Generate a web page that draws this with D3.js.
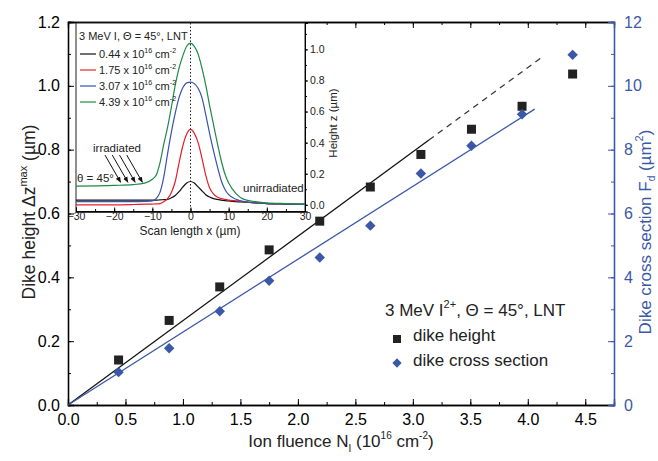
<!DOCTYPE html>
<html>
<head>
<meta charset="utf-8">
<script src="https://cdn.jsdelivr.net/npm/d3@7"></script>
<style>
  body { margin: 0; background: #fff; }
  svg { font-family: "Liberation Sans", Arial, sans-serif; }
</style>
</head>
<body>
<svg id="chart" width="658" height="461"></svg>
<script>
// main data: ion fluence (10^16 cm^-2)
var fluence = [0.44, 0.88, 1.32, 1.75, 2.19, 2.63, 3.07, 3.51, 3.95, 4.39];
var dikeHeight = [0.141, 0.265, 0.370, 0.486, 0.576, 0.683, 0.785, 0.864, 0.936, 1.037]; // um
var crossSection = [1.03, 1.78, 2.94, 3.89, 4.62, 5.62, 7.25, 8.12, 9.11, 10.97];      // um^2

// linear fits
var heightFitX = [0, 3.14];
var heightFitY = [0, 0.83];
var heightDashX = [3.14, 4.14];
var heightDashY = [0.83, 1.094];
var crossFitX = [0, 4.06];
var crossFitY = [0, 9.27];

// tick labels
var xTicks = [0, 0.5, 1, 1.5, 2, 2.5, 3, 3.5, 4, 4.5];
var yTicks = [0, 0.2, 0.4, 0.6, 0.8, 1.0, 1.2];
var y2Ticks = [0, 2, 4, 6, 8, 10, 12];

// inset: height profiles z(x)
var scanX = [-30, -20, -15, -12, -10, -9, -8, -7, -6, -5, -4, -3, -2, -1, 0, 1, 2, 3, 4, 5, 6, 7, 8, 9, 10, 12, 14, 17, 20, 25, 30];
var profile044 = [0.03, 0.03, 0.03, 0.03, 0.03, 0.03, 0.032, 0.033, 0.035, 0.045, 0.06, 0.085, 0.115, 0.14, 0.15, 0.14, 0.115, 0.09, 0.065, 0.05, 0.04, 0.035, 0.03, 0.027, 0.025, 0.02, 0.017, 0.012, 0.008, 0.005, 0.003];
var profile175 = [0, 0, 0.002, 0.004, 0.005, 0.006, 0.008, 0.02, 0.04, 0.08, 0.15, 0.27, 0.38, 0.455, 0.485, 0.46, 0.40, 0.30, 0.19, 0.11, 0.07, 0.05, 0.04, 0.035, 0.03, 0.025, 0.02, 0.012, 0.008, 0.005, 0.003];
var profile307 = [0.02, 0.02, 0.02, 0.022, 0.025, 0.04, 0.08, 0.18, 0.33, 0.47, 0.59, 0.69, 0.755, 0.785, 0.79, 0.78, 0.75, 0.69, 0.58, 0.46, 0.35, 0.25, 0.16, 0.10, 0.065, 0.035, 0.02, 0.012, 0.008, 0.005, 0.003];
var profile439 = [0.12, 0.125, 0.13, 0.14, 0.165, 0.19, 0.27, 0.39, 0.50, 0.63, 0.77, 0.88, 0.96, 1.02, 1.04, 1.02, 0.97, 0.88, 0.77, 0.64, 0.52, 0.40, 0.29, 0.20, 0.14, 0.07, 0.035, 0.02, 0.012, 0.008, 0.005];
var profileNames = ["0.44", "1.75", "3.07", "4.39"];
var insetXTicks = [-30, -20, -10, 0, 10, 20, 30];
var insetYTicks = [0, 0.2, 0.4, 0.6, 0.8, 1.0];

var blue = "#3b58a8";
var profileColors = ["#111111", "#e5202b", "#3553b0", "#1d8a48"];

var svg = d3.select("#chart");

// scales
var x = d3.scaleLinear().domain([0, 4.75]).range([68, 614]);
var y = d3.scaleLinear().domain([0, 1.2]).range([405, 22]);
var y2 = d3.scaleLinear().domain([0, 12]).range([405, 22]);

// axes - ticks inward
var minorX = d3.range(0, 4.76, 0.25);
var minorY = d3.range(0, 1.21, 0.1);
var minorY2 = d3.range(0, 12.1, 1);

svg.append("g").attr("transform", "translate(0,405)")
  .call(d3.axisBottom(x).tickValues(minorX).tickSize(-3).tickFormat(""));
svg.append("g").attr("transform", "translate(0,405)")
  .call(d3.axisBottom(x).tickValues(xTicks).tickSize(-6).tickPadding(9).tickFormat(d3.format(".1f")));
svg.append("g").attr("transform", "translate(0,22)")
  .call(d3.axisTop(x).tickValues(minorX).tickSize(-3).tickFormat(""));
svg.append("g").attr("transform", "translate(0,22)")
  .call(d3.axisTop(x).tickValues(xTicks).tickSize(-6).tickFormat(""));
svg.append("g").attr("transform", "translate(68,0)")
  .call(d3.axisLeft(y).tickValues(minorY).tickSize(-3).tickFormat(""));
svg.append("g").attr("transform", "translate(68,0)")
  .call(d3.axisLeft(y).tickValues(yTicks).tickSize(-6).tickPadding(8).tickFormat(d3.format(".1f")));

var rightMinor = svg.append("g").attr("transform", "translate(614,0)")
  .call(d3.axisRight(y2).tickValues(minorY2).tickSize(-3).tickFormat(""));
var rightAxis = svg.append("g").attr("transform", "translate(614,0)")
  .call(d3.axisRight(y2).tickValues(y2Ticks).tickSize(-6).tickPadding(10).tickFormat(d3.format("d")));
rightMinor.selectAll("line,path").attr("stroke", blue);
rightAxis.selectAll("line,path").attr("stroke", blue);
rightAxis.selectAll("text").attr("fill", blue);

svg.selectAll(".tick text").attr("font-size", 16).attr("font-family", "Liberation Sans, Arial, sans-serif");
svg.selectAll(".domain").attr("stroke-width", 1.3);

// fit lines
var lineMain = d3.line().x(d => x(d[0])).y(d => y(d[1]));
var lineRight = d3.line().x(d => x(d[0])).y(d => y2(d[1]));

svg.append("path").datum(d3.zip(heightFitX, heightFitY))
  .attr("d", lineMain).attr("fill", "none").attr("stroke", "#111").attr("stroke-width", 1.3);
svg.append("path").datum(d3.zip(heightDashX, heightDashY))
  .attr("d", lineMain).attr("fill", "none").attr("stroke", "#333").attr("stroke-width", 1.2)
  .attr("stroke-dasharray", "6,5");
svg.append("path").datum(d3.zip(crossFitX, crossFitY))
  .attr("d", lineRight).attr("fill", "none").attr("stroke", blue).attr("stroke-width", 1.3);

// markers
svg.append("g").selectAll("rect")
  .data(d3.zip(fluence, dikeHeight))
  .enter().append("rect")
  .attr("x", d => x(d[0]) - 4.5)
  .attr("y", d => y(d[1]) - 4.5)
  .attr("width", 9).attr("height", 9)
  .attr("fill", "#222");

var diamond = d3.symbol().type(d3.symbolDiamond2).size(70);
svg.append("g").selectAll("path")
  .data(d3.zip(fluence, crossSection))
  .enter().append("path")
  .attr("d", diamond)
  .attr("transform", d => "translate(" + x(d[0]) + "," + y2(d[1]) + ")")
  .attr("fill", blue);

// axis titles
var xt = svg.append("text").attr("x", 341).attr("y", 447).attr("text-anchor", "middle")
  .attr("font-size", 17).attr("fill", "#222");
xt.append("tspan").text("Ion fluence N");
xt.append("tspan").attr("font-size", 10).attr("dy", 5).text("I");
xt.append("tspan").attr("dy", -5).text(" (10");
xt.append("tspan").attr("font-size", 10).attr("dy", -8).text("16");
xt.append("tspan").attr("dy", 8).text(" cm");
xt.append("tspan").attr("font-size", 10).attr("dy", -8).text("-2");
xt.append("tspan").attr("dy", 8).text(")");

var yt = svg.append("text").attr("transform", "translate(35,212) rotate(-90)")
  .attr("text-anchor", "middle").attr("font-size", 17.5).attr("fill", "#222");
yt.append("tspan").text("Dike height \u0394z");
yt.append("tspan").attr("font-size", 11).attr("dy", -8).text("max");
yt.append("tspan").attr("dy", 8).text(" (\u00b5m)");

var y2t = svg.append("text").attr("transform", "translate(651,232) rotate(-90)")
  .attr("text-anchor", "middle").attr("font-size", 17).attr("fill", blue);
y2t.append("tspan").text("Dike cross section F");
y2t.append("tspan").attr("font-size", 10).attr("dy", 4).text("d");
y2t.append("tspan").attr("dy", -4).text(" (\u00b5m");
y2t.append("tspan").attr("font-size", 11).attr("dy", -8).text("2");
y2t.append("tspan").attr("dy", 8).text(")");

// legend
var lg = svg.append("text").attr("x", 385).attr("y", 316).attr("font-size", 17).attr("fill", "#222");
lg.append("tspan").text("3 MeV I");
lg.append("tspan").attr("font-size", 11).attr("dy", -8).text("2+");
lg.append("tspan").attr("dy", 8).text(", \u0398 = 45\u00b0, LNT");

svg.append("rect").attr("x", 393).attr("y", 335).attr("width", 8).attr("height", 8).attr("fill", "#222");
svg.append("text").attr("x", 413).attr("y", 341).attr("font-size", 17).attr("fill", "#222").text("dike height");
svg.append("path").attr("d", d3.symbol().type(d3.symbolDiamond2).size(55))
  .attr("transform", "translate(397,363)").attr("fill", blue);
svg.append("text").attr("x", 413).attr("y", 366).attr("font-size", 17).attr("fill", "#222").text("dike cross section");

// ---------- inset ----------
var ix = d3.scaleLinear().domain([-30, 30]).range([76, 305]);
var iy = d3.scaleLinear().domain([-0.043, 1.17]).range([211.5, 23]);
var inset = svg.append("g");

inset.append("rect").attr("x", 76).attr("y", 23).attr("width", 229).attr("height", 188.5)
  .attr("fill", "#fff").attr("stroke", "#222").attr("stroke-width", 1);

inset.append("g").attr("transform", "translate(0,211.5)")
  .call(d3.axisBottom(ix).tickValues(d3.range(-30, 31, 5)).tickSize(-2.5).tickFormat(""));
var ixAxis = inset.append("g").attr("transform", "translate(0,211.5)")
  .call(d3.axisBottom(ix).tickValues(insetXTicks).tickSize(-4).tickPadding(1));
var iyAxis = inset.append("g").attr("transform", "translate(305,0)")
  .call(d3.axisRight(iy).tickValues(insetYTicks).tickSize(3).tickPadding(2).tickFormat(d3.format(".1f")));
inset.append("g").attr("transform", "translate(305,0)")
  .call(d3.axisRight(iy).tickValues(d3.range(0, 1.11, 0.1)).tickSize(2).tickFormat(""));
inset.selectAll(".tick text").attr("font-size", 10.5).attr("fill", "#222");
inset.selectAll(".domain").attr("stroke-width", 1);

// dotted center line
inset.append("line").attr("x1", ix(0)).attr("x2", ix(0)).attr("y1", 23).attr("y2", 211.5)
  .attr("stroke", "#222").attr("stroke-width", 1).attr("stroke-dasharray", "1.5,2");

var profiles = [profile044, profile175, profile307, profile439];
var pLine = d3.line().x(d => ix(d[0])).y(d => iy(d[1])).curve(d3.curveMonotoneX);
profiles.forEach(function(p, i) {
  inset.append("path").datum(d3.zip(scanX, p))
    .attr("d", pLine).attr("fill", "none")
    .attr("stroke", profileColors[i]).attr("stroke-width", 1.2);
});

// inset legend
inset.append("text").attr("x", 79).attr("y", 40).attr("font-size", 11).attr("fill", "#222")
  .text("3 MeV I, \u0398 = 45\u00b0, LNT");
profileNames.forEach(function(n, i) {
  var yy = 54 + i * 16;
  inset.append("line").attr("x1", 80).attr("x2", 96).attr("y1", yy).attr("y2", yy)
    .attr("stroke", profileColors[i]).attr("stroke-width", 1.2);
  var t = inset.append("text").attr("x", 99).attr("y", yy + 4).attr("font-size", 11).attr("fill", "#222");
  t.append("tspan").text(n + " x 10");
  t.append("tspan").attr("font-size", 7).attr("dy", -5).text("16");
  t.append("tspan").attr("dy", 5).text(" cm");
  t.append("tspan").attr("font-size", 7).attr("dy", -5).text("-2");
});

// inset labels
inset.append("text").attr("x", 190).attr("y", 235).attr("text-anchor", "middle")
  .attr("font-size", 12).attr("fill", "#222").text("Scan length x (\u00b5m)");
inset.append("text").attr("transform", "translate(337,123) rotate(-90)").attr("text-anchor", "middle")
  .attr("font-size", 11.5).attr("fill", "#222").text("Height z (\u00b5m)");
inset.append("text").attr("x", 93).attr("y", 152).attr("font-size", 11.5).attr("fill", "#222").text("irradiated");
inset.append("text").attr("x", 77).attr("y", 182).attr("font-size", 11.5).attr("fill", "#222").text("\u03b8 = 45\u00b0");
inset.append("text").attr("x", 243).attr("y", 192).attr("font-size", 11.5).attr("fill", "#222").text("unirradiated");

// arrows
var defs = svg.append("defs");
defs.append("marker").attr("id", "arr").attr("viewBox", "0 0 10 10").attr("refX", 9).attr("refY", 5)
  .attr("markerWidth", 6).attr("markerHeight", 6).attr("orient", "auto")
  .append("path").attr("d", "M0,1 L10,5 L0,9 z").attr("fill", "#111");
var arrowStart = [-22.4, -20.5, -18.6, -16.7];
var arrowEnd = [-18.3, -16.4, -14.5, -12.6];
arrowStart.forEach(function(s, i) {
  inset.append("line")
    .attr("x1", ix(s)).attr("y1", iy(0.32))
    .attr("x2", ix(arrowEnd[i])).attr("y2", iy(0.145))
    .attr("stroke", "#111").attr("stroke-width", 1).attr("marker-end", "url(#arr)");
});
</script>
</body>
</html>
